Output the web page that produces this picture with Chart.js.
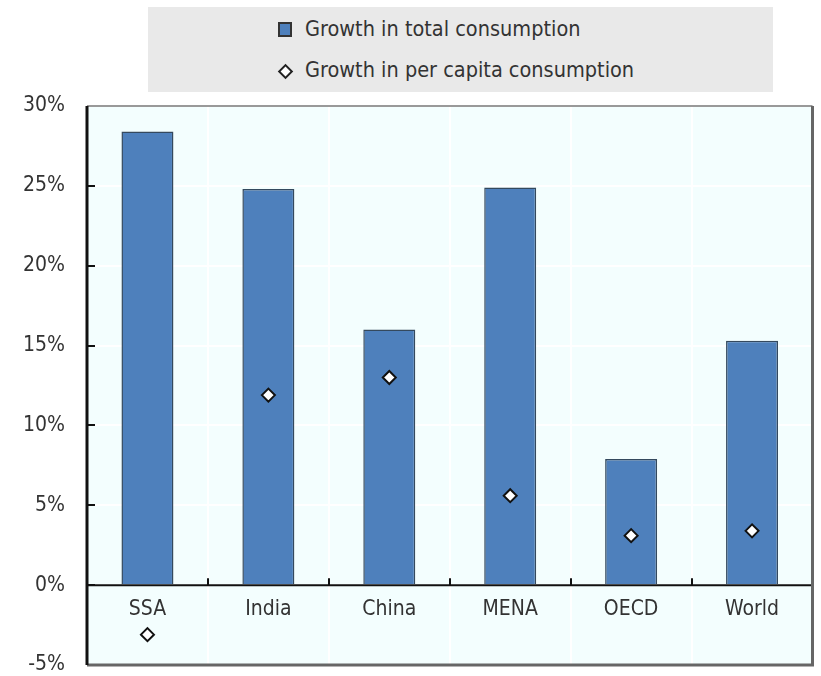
<!DOCTYPE html>
<html>
<head>
<meta charset="utf-8">
<script src="https://cdn.jsdelivr.net/npm/chart.js@4.4.1/dist/chart.umd.min.js"></script>
<style>
  html, body { margin: 0; padding: 0; background: #fff; }
  #wrap { position: relative; width: 821px; height: 676px; }
  #legend {
    position: absolute; left: 148px; top: 7px; width: 625px; height: 85px;
    background: #e9e9e9;
    font-family: "Liberation Sans Narrow", "DejaVu Sans Condensed", sans-serif;
    font-size: 21.5px; color: #333;
  }
  .item { position: absolute; left: 130px; height: 26px; line-height: 26px; white-space: nowrap; }
  .item span { position: absolute; left: 27px; }
  .box { position: absolute; left: 0; top: 6px; width: 10px; height: 11px; background: #4e80bc; border: 2px solid #333; }
  .dia { position: absolute; left: 2px; top: 9px; width: 7px; height: 7px; background: #fff; border: 2px solid #222; transform: rotate(45deg); }
</style>
</head>
<body>
<div id="wrap">
  <canvas id="consumption" width="821" height="676"></canvas>
  <div id="legend">
    <div class="item" style="top:9px"><div class="box"></div><span>Growth in total consumption</span></div>
    <div class="item" style="top:50px"><div class="dia"></div><span>Growth in per capita consumption</span></div>
  </div>
</div>
<script>
// Datos
var regions = ["SSA", "India", "China", "MENA", "OECD", "World"];
var totalGrowth = [28.4, 24.8, 16.0, 24.9, 7.9, 15.3];
var perCapitaGrowth = [-3.1, 11.9, 13.0, 5.6, 3.1, 3.4];
var yTicks = [-5, 0, 5, 10, 15, 20, 25, 30];

var labelFont = "'Liberation Sans Narrow', 'DejaVu Sans Condensed', sans-serif";

// Fondo y marco del area del grafico
var framePlugin = {
    id: "frame",
    beforeDraw: function (chart) {
        var a = chart.chartArea, ctx = chart.ctx;
        ctx.save();
        ctx.fillStyle = "#f3fefe";
        ctx.fillRect(a.left, a.top, a.right - a.left, a.bottom - a.top);
        ctx.restore();
    },
    afterDatasetsDraw: function (chart) {
        var a = chart.chartArea, ctx = chart.ctx;
        var y = chart.scales.y, x = chart.scales.x;
        var y0 = y.getPixelForValue(0);
        ctx.save();
        // linea del cero
        ctx.strokeStyle = "#111";
        ctx.lineWidth = 2;
        ctx.beginPath();
        ctx.moveTo(a.left, y0);
        ctx.lineTo(a.right, y0);
        ctx.stroke();
        // marcas entre categorias
        for (var i = 1; i < regions.length; i++) {
            var bx = Math.round((x.getPixelForValue(i - 1) + x.getPixelForValue(i)) / 2);
            ctx.beginPath();
            ctx.moveTo(bx, y0);
            ctx.lineTo(bx, y0 - 7);
            ctx.stroke();
        }
        // marcas del eje y
        yTicks.forEach(function (v) {
            var py = Math.round(y.getPixelForValue(v));
            ctx.beginPath();
            ctx.moveTo(a.left, py);
            ctx.lineTo(a.left + 8, py);
            ctx.stroke();
        });
        // marco
        ctx.strokeStyle = "#999";
        ctx.lineWidth = 2;
        ctx.beginPath();
        ctx.moveTo(a.left, a.top);
        ctx.lineTo(a.right, a.top);
        ctx.stroke();
        ctx.strokeStyle = "#666";
        ctx.lineWidth = 3;
        ctx.beginPath();
        ctx.moveTo(a.left, a.bottom);
        ctx.lineTo(a.right, a.bottom);
        ctx.lineTo(a.right, a.top);
        ctx.stroke();
        ctx.strokeStyle = "#111";
        ctx.lineWidth = 3;
        ctx.beginPath();
        ctx.moveTo(a.left, a.top);
        ctx.lineTo(a.left, a.bottom);
        ctx.stroke();
        ctx.restore();
    }
};

var consumptionChart = document.querySelector("#consumption");
var consumption = new Chart(consumptionChart, {
    type: "bar",
    data: {
        labels: regions,
        datasets: [{
            type: "line",
            label: "Growth in per capita consumption",
            data: perCapitaGrowth,
            showLine: false,
            pointStyle: "rectRot",
            pointRadius: 6.5,
            pointBorderWidth: 2,
            pointBackgroundColor: "#ffffff",
            pointBorderColor: "#111111",
            order: 0
        }, {
            label: "Growth in total consumption",
            data: totalGrowth,
            backgroundColor: "#4e80bc",
            borderColor: "#34495e",
            borderWidth: 1.5,
            categoryPercentage: 1,
            barPercentage: 0.43,
            order: 1
        }]
    },
    plugins: [framePlugin],
    options: {
        responsive: false,
        animation: false,
        layout: {
            padding: { top: 106, bottom: 11, right: 5, left: 0 }
        },
        plugins: {
            legend: { display: false },
            tooltip: { enabled: false }
        },
        scales: {
            x: {
                position: { y: 0 },
                offset: true,
                afterFit: function (scale) {
                    scale.height = 0;
                    scale.paddingLeft = 0;
                    scale.paddingRight = 0;
                },
                grid: { color: "#ffffff", lineWidth: 2, offset: true, drawTicks: false },
                border: { display: false },
                ticks: {
                    color: "#333",
                    padding: 12,
                    font: { family: labelFont, size: 21 }
                }
            },
            y: {
                min: -5,
                max: 30,
                afterFit: function (scale) {
                    scale.width = 87;
                    scale.paddingTop = 0;
                    scale.paddingBottom = 0;
                },
                grid: { color: "#ffffff", lineWidth: 2, drawTicks: false },
                border: { display: false },
                ticks: {
                    stepSize: 5,
                    padding: 22,
                    color: "#333",
                    font: { family: labelFont, size: 21 },
                    callback: function (v) { return v + "%"; }
                }
            }
        }
    }
});
</script>
</body>
</html>
